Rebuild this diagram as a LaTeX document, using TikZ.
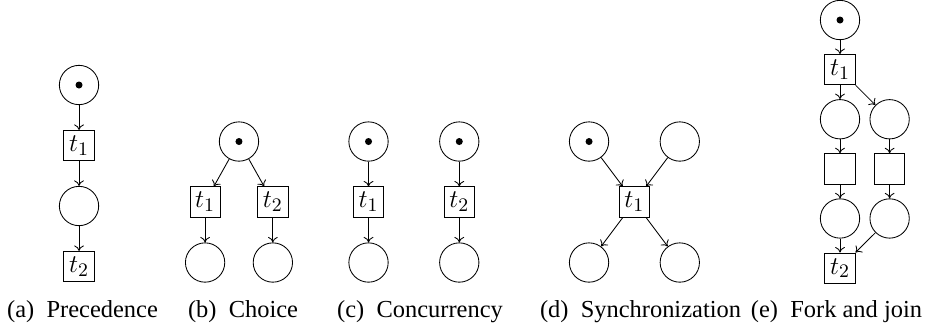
\documentclass[tikz,border=0pt]{standalone}
\usepackage{fontspec}
\setmainfont{Liberation Serif}
\usetikzlibrary{positioning,arrows.meta}

\begin{document}
\begin{tikzpicture}[node distance=1cm, on grid, >={To[length=2.6pt, width=4.6pt]},
    place/.style={circle, draw, minimum size=6.5mm, inner sep=0pt},
    trans/.style={rectangle, draw, minimum size=5mm, inner sep=0pt, font=\fontsize{12.5}{14}\selectfont},
    tok/.style={path picture={\fill (path picture bounding box.center) circle (1.65pt);}},
    subcap/.style={anchor=base, font=\fontsize{11.5}{13}\selectfont}]
    \useasboundingbox (0,0) rectangle (15.355,-5.438);

    % (a) precedence
    \node[place, tok] (a0) at (1.306,-1.405) {};
    \node[trans, below=of a0] (a1) {$t_1$};
    \node[place, below=of a1] (a2) {};
    \node[trans, below=of a2] (a3) {$t_2$};
    \draw[->] (a0) -- (a1);
    \draw[->] (a1) -- (a2);
    \draw[->] (a2) -- (a3);

    % (b) choice
    \node[place, tok] (b0) at (3.950,-2.339) {};
    \node[trans, below left=1cm and 0.56cm of b0] (b1) {$t_1$};
    \node[trans, below right=1cm and 0.56cm of b0] (b2) {$t_2$};
    \node[place, below=of b1] (b3) {};
    \node[place, below=of b2] (b4) {};
    \draw[->] (b0) -- (b1);
    \draw[->] (b0) -- (b2);
    \draw[->] (b1) -- (b3);
    \draw[->] (b2) -- (b4);

    % (c) concurrency
    \node[place, tok] (c0) at (6.091,-2.339) {};
    \node[trans, below=of c0] (c1) {$t_1$};
    \node[place, below=of c1] (c2) {};
    \node[place, tok, right=1.5cm of c0] (c3) {};
    \node[trans, below=of c3] (c4) {$t_2$};
    \node[place, below=of c4] (c5) {};
    \draw[->] (c0) -- (c1);
    \draw[->] (c1) -- (c2);
    \draw[->] (c3) -- (c4);
    \draw[->] (c4) -- (c5);

    % (d) synchronization
    \node[place, tok] (d0) at (9.736,-2.339) {};
    \node[place, right=1.5cm of d0] (d1) {};
    \node[trans, below right=1cm and 0.75cm of d0] (d2) {$t_1$};
    \node[place, below left=1cm and 0.75cm of d2] (d3) {};
    \node[place, below right=1cm and 0.75cm of d2] (d4) {};
    \draw[->] (d0) -- (d2);
    \draw[->] (d1) -- (d2);
    \draw[->] (d2) -- (d3);
    \draw[->] (d2) -- (d4);

    % (e) fork and join
    \begin{scope}[node distance=0.82cm]
    \node[place, tok] (e0) at (13.884,-0.331) {};
    \node[trans, below=of e0] (e1) {$t_1$};
    \node[place, below=of e1] (e2) {};
    \node[place, below right=0.82cm and 0.82cm of e1] (e3) {};
    \node[trans, below=of e2] (e4) {};
    \node[trans, below=of e3] (e5) {};
    \node[place, below=of e4] (e6) {};
    \node[place, below=of e5] (e7) {};
    \node[trans, below=of e6] (e8) {$t_2$};
    \end{scope}
    \draw[->] (e0) -- (e1);
    \draw[->] (e1) -- (e2);
    \draw[->] (e1) -- (e3);
    \draw[->] (e2) -- (e4);
    \draw[->] (e3) -- (e5);
    \draw[->] (e4) -- (e6);
    \draw[->] (e5) -- (e7);
    \draw[->] (e6) -- (e8);
    \draw[->] (e7) -- (e8);

    % captions
    \node[subcap] (capa) at (1.364,-5.24) {(a)\enspace Precedence};
    \node[subcap] (capb) at (4.017,-5.24) {(b)\enspace Choice};
    \node[subcap] (capc) at (6.942,-5.24) {(c)\enspace Concurrency};
    \node[subcap] (capd) at (10.587,-5.24) {(d)\enspace Synchronization};
    \node[subcap] (cape) at (13.826,-5.24) {(e)\enspace Fork and join};
\end{tikzpicture}
\end{document}
